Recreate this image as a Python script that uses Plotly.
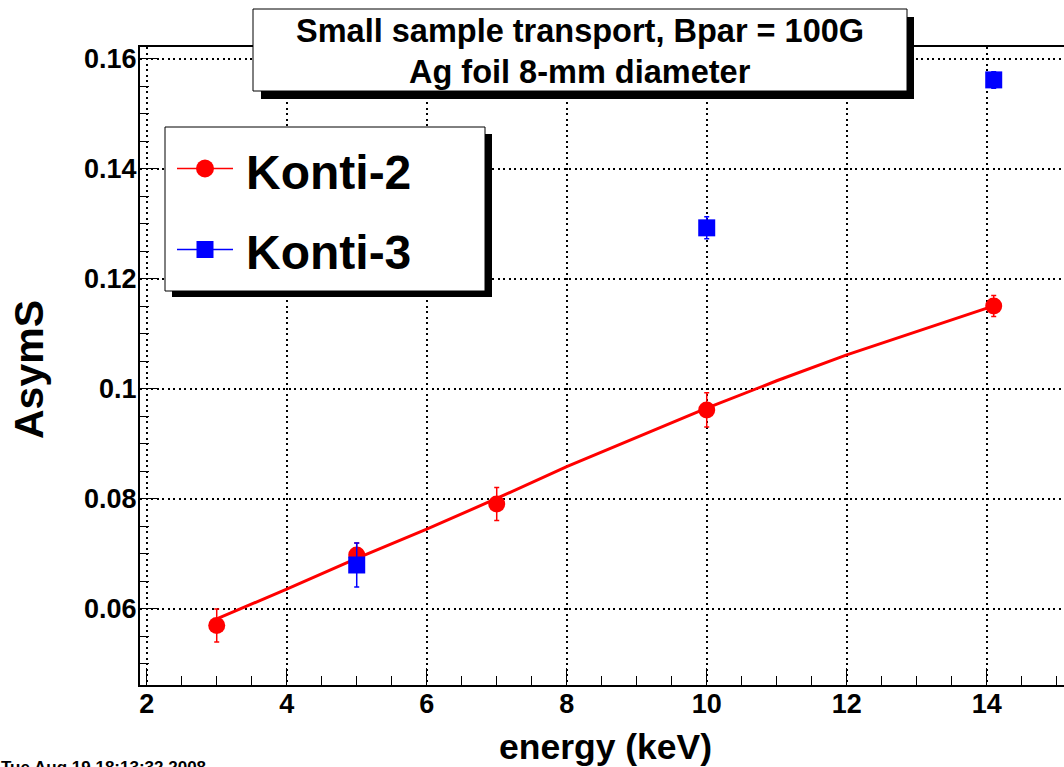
import plotly.graph_objects as go

# ---------------- data ----------------
k2_energy = [3.0, 5.0, 7.0, 10.0, 14.1]
k2_asym = [0.0570, 0.0698, 0.0791, 0.0962, 0.1151]
k2_err = [0.0030, 0.0022, 0.0030, 0.0031, 0.0019]

k3_energy = [5.0, 10.0, 14.1]
k3_asym = [0.0680, 0.1293, 0.1562]
k3_err = [0.0040, 0.0020, 0.0015]

fit_energy = [3.0, 4.0, 5.0, 6.0, 7.0, 8.0, 10.0, 11.0, 12.0, 14.0, 14.1]
fit_asym = [0.0582, 0.0636, 0.0692, 0.0745, 0.0801, 0.0859, 0.0965, 0.1015, 0.1062, 0.1147, 0.1151]

x_tickvals = [2, 4, 6, 8, 10, 12, 14]
x_ticktext = ["2", "4", "6", "8", "10", "12", "14"]
y_tickvals = [0.06, 0.08, 0.10, 0.12, 0.14, 0.16]
y_ticktext = ["0.06", "0.08", "0.1", "0.12", "0.14", "0.16"]

title_lines = ["Small sample transport, Bpar = 100G", "Ag foil 8-mm diameter"]
legend_labels = ["Konti-2", "Konti-3"]
x_title = "energy (keV)"
y_title = "AsymS"
timestamp = "Tue Aug 19 18:13:32 2008"

RED = "#ff0000"
BLUE = "#0000ff"
FONT = "Liberation Sans, Arial, Helvetica, sans-serif"

# ---------------- layout geometry (pixels) ----------------
W, H = 1064, 767
ML, MR, MT, MB = 140, 0, 47, 82
PW, PH = W - ML - MR, H - MT - MB


def px(x):
    return (x - ML) / PW


def py(y):
    return (H - MB - y) / PH


fig = go.Figure()

fig.add_trace(go.Scatter(
    x=fit_energy, y=fit_asym, mode="lines",
    line=dict(color=RED, width=3), showlegend=False, hoverinfo="skip"))

fig.add_trace(go.Scatter(
    x=k2_energy, y=k2_asym, mode="markers", name=legend_labels[0],
    marker=dict(symbol="circle", size=17, color=RED, line=dict(width=0)),
    error_y=dict(type="data", array=k2_err, visible=True, color=RED,
                 thickness=1.5, width=2.5),
    showlegend=False))

fig.add_trace(go.Scatter(
    x=k3_energy, y=k3_asym, mode="markers", name=legend_labels[1],
    marker=dict(symbol="square", size=17, color=BLUE, line=dict(width=0)),
    error_y=dict(type="data", array=k3_err, visible=True, color=BLUE,
                 thickness=1.5, width=2.5),
    showlegend=False))

axis_common = dict(
    showline=True, linecolor="black", linewidth=2,
    ticks="inside", ticklen=17, tickwidth=1, tickcolor="black",
    showgrid=True, gridcolor="black", gridwidth=1.5, griddash="2px,3.5px",
    zeroline=False,
    tickfont=dict(family=FONT, size=27, color="black", weight="bold"),
)

fig.update_xaxes(
    range=[1.904, 1.904 + PW / 70.0],
    tickmode="array", tickvals=x_tickvals, ticktext=x_ticktext,
    mirror=True, ticklabelstandoff=-6,
    minor=dict(tickmode="linear", tick0=0, dtick=0.5, ticks="inside",
               ticklen=9, tickcolor="black", tickwidth=1, showgrid=False),
    **axis_common)

fig.update_yaxes(
    range=[0.04618, 0.04618 + PH / 5500.0],
    tickmode="array", tickvals=y_tickvals, ticktext=y_ticktext,
    mirror=False, ticklabelstandoff=-4,
    minor=dict(tickmode="linear", tick0=0, dtick=0.005, ticks="inside",
               ticklen=9, tickcolor="black", tickwidth=1, showgrid=False),
    **axis_common)

shapes = []
# title box + shadow
shapes.append(dict(type="rect", xref="paper", yref="paper",
                   x0=px(261), x1=px(914), y0=py(17), y1=py(99),
                   fillcolor="black", line=dict(width=0), layer="above"))
shapes.append(dict(type="rect", xref="paper", yref="paper",
                   x0=px(253), x1=px(907), y0=py(9), y1=py(91),
                   fillcolor="white", line=dict(color="black", width=1), layer="above"))
# legend box + shadow
shapes.append(dict(type="rect", xref="paper", yref="paper",
                   x0=px(172), x1=px(492), y0=py(134), y1=py(297),
                   fillcolor="black", line=dict(width=0), layer="above"))
shapes.append(dict(type="rect", xref="paper", yref="paper",
                   x0=px(165), x1=px(485), y0=py(127), y1=py(291),
                   fillcolor="white", line=dict(color="black", width=1), layer="above"))
# legend samples
for yy, col in [(168.5, RED), (249.5, BLUE)]:
    shapes.append(dict(type="line", xref="paper", yref="paper",
                       x0=px(177), x1=px(233), y0=py(yy), y1=py(yy),
                       line=dict(color=col, width=1.5), layer="above"))
shapes.append(dict(type="circle", xref="paper", yref="paper",
                   x0=px(196), x1=px(214), y0=py(159.5), y1=py(177.5),
                   fillcolor=RED, line=dict(width=0), layer="above"))
shapes.append(dict(type="rect", xref="paper", yref="paper",
                   x0=px(196.5), x1=px(213.5), y0=py(241), y1=py(258),
                   fillcolor=BLUE, line=dict(width=0), layer="above"))

annotations = []
for txt, yy in zip(title_lines, [31, 72]):
    annotations.append(dict(text=txt, xref="paper", yref="paper",
                            x=px(580), y=py(yy), xanchor="center", yanchor="middle",
                            showarrow=False,
                            font=dict(family=FONT, size=32.5, color="black", weight="bold")))
for txt, yy in zip(legend_labels, [172, 252.5]):
    annotations.append(dict(text=txt, xref="paper", yref="paper",
                            x=px(244), y=py(yy), xanchor="left", yanchor="middle",
                            showarrow=False,
                            font=dict(family=FONT, size=48, color="black", weight="bold")))
annotations.append(dict(text=y_title, xref="paper", yref="paper",
                        x=px(29), y=py(370), xanchor="center", yanchor="middle",
                        textangle=-90, showarrow=False,
                        font=dict(family=FONT, size=41, color="black", weight="bold")))
annotations.append(dict(text=x_title, xref="paper", yref="paper",
                        x=px(605), y=py(747), xanchor="center", yanchor="middle",
                        showarrow=False,
                        font=dict(family=FONT, size=35.5, color="black", weight="bold")))
annotations.append(dict(text=timestamp, xref="paper", yref="paper",
                        x=px(-1), y=py(756), xanchor="left", yanchor="top",
                        showarrow=False,
                        font=dict(family=FONT, size=17, color="black", weight="bold")))

fig.update_layout(
    width=W, height=H,
    margin=dict(l=ML, r=MR, t=MT, b=MB, pad=0),
    paper_bgcolor="white", plot_bgcolor="white",
    showlegend=False,
    shapes=shapes, annotations=annotations,
)

fig.write_html("out.html")
